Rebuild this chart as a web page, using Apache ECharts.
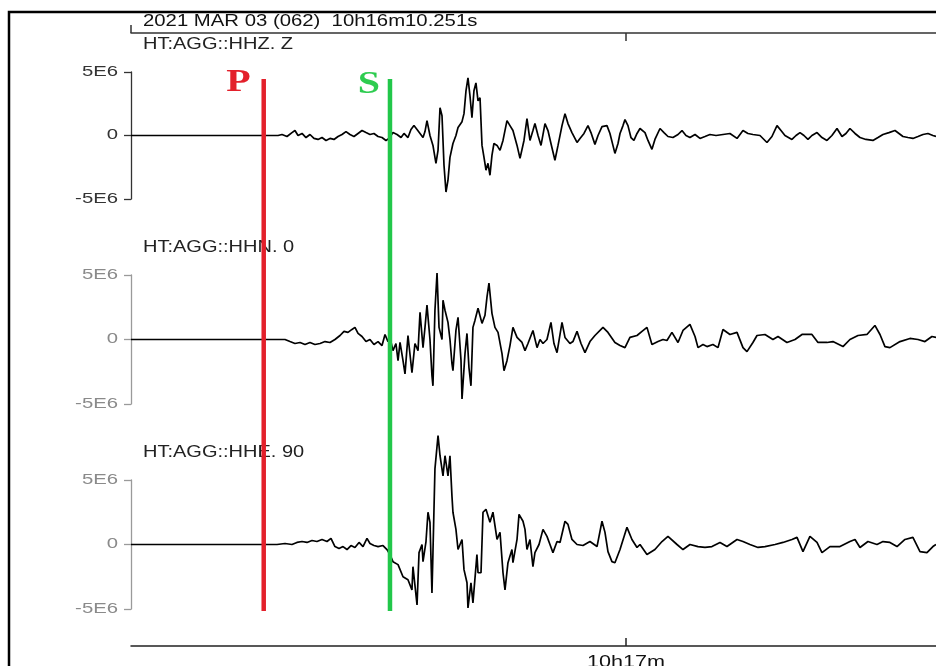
<!DOCTYPE html>
<html><head><meta charset="utf-8">
<script src="https://cdn.jsdelivr.net/npm/echarts@6/dist/echarts.min.js"></script>
<style>html,body{margin:0;padding:0;background:#fff}#c{width:936px;height:666px}</style>
</head><body><div id="c"></div>
<script>
// ---- data ----
const headerText = '2021 MAR 03 (062)  10h16m10.251s';
const channelNames = ['HT:AGG::HHZ. Z', 'HT:AGG::HHN. 0', 'HT:AGG::HHE. 90'];
const yTickValues = [5, 0, -5];            // in units of 1E6 counts
const yTickLabels = ['5E6', '0', '-5E6'];
const timeStart = 10.251;                  // seconds after 10h16m
const timeEnd = 91.16;
const timeTickValues = [60];
const timeTickLabels = ['10h17m'];
const pickP = 23.59;
const pickS = 36.28;

const traceZ = [[10.25,0],[25.03,0],[25.43,0.08],[25.93,-0.08],[26.43,0.23],[26.73,0.39],[27.04,0],[27.44,0.16],[27.84,-0.16],[28.24,0.08],[28.64,-0.23],[29.05,-0.31],[29.45,-0.16],[29.85,-0.39],[30.25,-0.23],[30.65,-0.31],[31.06,-0.08],[31.46,0.08],[31.86,0.31],[32.26,0.08],[32.66,-0.08],[33.07,0.16],[33.47,0.39],[33.87,0.23],[34.27,0.08],[34.67,0.16],[35.08,-0.08],[35.48,-0.16],[35.88,-0.39],[36.18,-0.23],[36.58,0.23],[36.99,0.08],[37.39,-0.16],[37.69,0.16],[38.09,-0.16],[38.39,0.47],[38.69,0.78],[39.0,0.47],[39.3,0.16],[39.6,-0.16],[39.8,0.31],[40.0,1.17],[40.3,0],[40.6,-0.78],[40.9,-2.19],[41.11,-1.17],[41.31,2.19],[41.51,1.56],[41.71,-2.34],[41.91,-4.45],[42.11,-3.52],[42.31,-1.72],[42.61,-0.63],[42.91,0],[43.12,0.63],[43.32,0.78],[43.52,1.09],[43.72,1.72],[43.92,3.52],[44.12,4.53],[44.32,3.13],[44.52,1.41],[44.72,3.52],[44.92,4.14],[45.13,2.73],[45.33,2.97],[45.53,-0.78],[45.73,-1.72],[45.93,-2.73],[46.13,-2.19],[46.33,-3.13],[46.53,-1.56],[46.73,-0.63],[47.04,-0.78],[47.34,-1.17],[47.64,-0.39],[48.04,1.17],[48.34,0.78],[48.64,0.39],[49.05,-0.78],[49.35,-1.8],[49.75,-0.39],[50.05,1.33],[50.35,-0.39],[50.65,0.39],[50.85,0.94],[51.16,0],[51.46,-0.78],[51.86,0.94],[52.16,0.39],[52.46,-0.63],[52.86,-1.95],[53.17,-0.78],[53.57,0.78],[53.87,1.72],[54.17,0.94],[54.57,0.23],[55.08,-0.55],[55.38,-0.23],[55.78,0.16],[56.18,0.78],[56.48,0.23],[56.88,-0.7],[57.19,0],[57.59,0.7],[58.09,0.78],[58.39,0.16],[58.69,-0.78],[58.89,-1.41],[59.2,-0.63],[59.4,0.16],[59.7,0.78],[59.9,1.25],[60.2,0.78],[60.5,-0.16],[60.8,-0.39],[61.11,0.16],[61.41,0.55],[61.91,0.23],[62.21,-0.39],[62.61,-1.09],[62.91,-0.31],[63.42,0.55],[63.82,0.23],[64.22,-0.08],[64.72,-0.16],[65.23,0.08],[65.63,0.39],[66.03,0],[66.43,-0.16],[66.94,0.08],[67.44,-0.23],[67.94,-0.08],[68.44,0.08],[69.05,0],[69.75,0.08],[70.45,0.16],[71.16,-0.23],[71.76,0.39],[72.26,0.16],[72.76,0.08],[73.47,0],[74.17,-0.55],[74.67,-0.08],[75.18,0.78],[75.58,0.39],[75.98,0],[76.68,-0.31],[77.09,0],[77.49,0.23],[77.89,0],[78.29,-0.31],[78.69,0],[79.2,0.23],[79.7,-0.16],[80.2,-0.39],[80.7,0],[81.21,0.55],[81.71,-0.08],[82.11,0.16],[82.51,0.55],[83.02,0.16],[83.52,-0.16],[84.12,-0.31],[84.82,-0.39],[85.33,-0.16],[85.83,0.08],[86.43,0.23],[87.04,0.39],[87.44,0.16],[87.84,-0.08],[88.34,-0.16],[88.84,-0.23],[89.35,-0.08],[89.85,0.08],[90.35,0.16],[90.85,0],[91.16,-0.08]];

const traceN = [[10.25,0],[25.73,0],[26.23,-0.16],[26.73,-0.31],[27.24,-0.23],[27.74,-0.39],[28.24,-0.23],[28.74,-0.39],[29.25,-0.31],[29.75,-0.16],[30.25,-0.23],[30.75,0],[31.26,0.31],[31.66,0.63],[32.06,0.55],[32.46,0.78],[32.76,0.94],[33.07,0.47],[33.47,0.23],[33.87,-0.16],[34.27,0],[34.67,-0.39],[35.08,-0.16],[35.48,-0.47],[35.78,0.39],[36.08,-0.16],[36.28,0.16],[36.58,-0.86],[36.88,-0.31],[37.09,-1.64],[37.29,-0.23],[37.59,-1.64],[37.79,-2.66],[38.09,0.31],[38.49,-2.58],[38.79,-0.31],[39.1,-0.86],[39.3,2.11],[39.6,-0.63],[39.8,0.94],[40.0,2.66],[40.3,0],[40.5,-2.81],[40.6,-3.59],[40.8,2.27],[41.01,5.16],[41.21,0.94],[41.51,0],[41.61,3.05],[41.81,2.27],[42.11,1.33],[42.31,0],[42.51,-1.88],[42.61,-2.42],[42.91,0.7],[43.12,1.72],[43.42,-1.64],[43.52,-4.61],[43.82,-1.09],[44.02,0.47],[44.22,-2.19],[44.42,-3.59],[44.62,0.94],[44.82,1.48],[45.13,2.42],[45.53,1.25],[45.83,1.88],[46.03,3.28],[46.23,4.38],[46.53,2.03],[46.83,0.94],[47.14,0.55],[47.54,-1.09],[47.74,-2.42],[48.04,-1.64],[48.34,-0.47],[48.64,0.94],[49.05,0.16],[49.55,-0.23],[49.85,-0.86],[50.15,-0.31],[50.65,0.7],[51.06,-0.63],[51.36,0],[51.66,-0.31],[52.06,0],[52.46,1.33],[52.76,-0.31],[53.07,-1.02],[53.57,1.33],[53.87,0.16],[54.37,-0.31],[54.67,-0.16],[55.08,0.63],[55.48,-0.31],[55.88,-1.02],[56.38,-0.16],[56.88,0.31],[57.69,0.94],[58.19,0.55],[58.89,-0.23],[59.4,-0.47],[59.9,-0.63],[60.4,0.16],[61.11,0.31],[61.61,0.63],[62.11,0.94],[62.61,-0.39],[63.22,-0.16],[63.72,0],[64.12,-0.08],[64.62,0.55],[65.23,-0.23],[65.73,0.7],[66.43,1.17],[66.94,0.23],[67.24,-0.63],[67.74,-0.39],[68.14,-0.55],[68.74,-0.39],[69.25,-0.63],[69.75,0.78],[70.45,0.39],[71.16,0.55],[71.76,-0.63],[72.16,-0.94],[72.76,-0.23],[73.17,0.31],[73.97,0.39],[74.77,0],[75.28,0.23],[76.18,-0.23],[76.99,0],[77.69,0.39],[78.69,0.39],[79.3,-0.23],[80.2,-0.23],[80.8,-0.16],[81.81,-0.55],[82.51,0],[83.32,0.31],[84.22,0.39],[85.02,1.09],[85.53,0.39],[86.03,-0.55],[86.53,-0.63],[87.54,-0.16],[88.54,0.08],[89.35,0],[90.05,-0.16],[90.75,0.23],[91.16,0.16]];

const traceE = [[10.25,0],[24.93,0],[25.73,0.08],[26.43,0],[26.93,0.16],[27.44,0.23],[27.94,0.16],[28.44,0.31],[28.94,0.23],[29.45,0.39],[29.95,0.23],[30.35,0.47],[30.75,-0.16],[31.16,-0.31],[31.56,-0.16],[31.96,-0.39],[32.36,-0.08],[32.76,-0.23],[33.17,0.16],[33.57,-0.16],[33.97,0.47],[34.27,0.08],[34.67,-0.08],[35.08,-0.16],[35.58,-0.08],[35.98,-0.39],[36.28,-0.78],[36.58,-1.33],[37.09,-1.56],[37.59,-2.5],[38.09,-2.73],[38.49,-3.52],[38.59,-1.72],[39.0,-4.69],[39.2,-0.63],[39.5,0],[39.6,-1.33],[39.9,0.23],[40.1,2.5],[40.3,1.72],[40.5,-3.75],[40.6,-0.63],[40.8,5.86],[41.11,8.44],[41.31,6.88],[41.61,5.31],[41.81,6.88],[42.11,5.31],[42.31,6.88],[42.51,3.75],[42.61,2.5],[42.91,1.17],[43.12,-0.39],[43.52,0.39],[43.72,-1.95],[44.02,-2.97],[44.12,-4.92],[44.42,-2.97],[44.62,-4.53],[45.02,-0.78],[45.13,-2.19],[45.43,-2.19],[45.63,2.5],[45.93,2.73],[46.33,1.72],[46.63,2.5],[47.04,0.39],[47.34,0.94],[47.64,-2.19],[47.84,-3.52],[48.14,-1.41],[48.54,-0.39],[48.64,-1.41],[49.05,0.39],[49.25,2.34],[49.65,1.8],[49.85,1.17],[50.05,-0.39],[50.35,0.39],[50.65,-1.72],[50.85,-0.63],[51.26,0],[51.66,1.17],[52.06,0.63],[52.36,0],[52.66,-0.63],[53.07,0.23],[53.37,0.16],[53.87,1.8],[54.17,1.56],[54.57,0.39],[55.08,0],[55.68,-0.08],[56.38,0.23],[57.09,-0.16],[57.59,1.8],[57.89,0.94],[58.19,-0.55],[58.59,-1.33],[58.89,-1.41],[59.4,-0.39],[60.1,1.33],[60.6,0.39],[61.11,-0.23],[61.41,0],[62.11,-0.78],[62.91,-0.39],[63.62,0.23],[64.22,0.63],[65.13,0],[65.73,-0.39],[66.43,0],[67.24,-0.16],[67.94,-0.23],[68.64,-0.16],[69.45,0.16],[70.15,-0.16],[71.16,0.39],[71.76,0.23],[72.46,0],[73.27,-0.23],[73.97,-0.16],[74.98,0],[75.78,0.16],[76.68,0.39],[77.19,0.55],[77.79,-0.55],[78.49,0.63],[79.2,0.16],[79.7,-0.63],[80.5,-0.16],[81.51,-0.16],[82.51,0.23],[83.02,0.39],[83.52,-0.23],[84.32,0.23],[85.23,0],[85.83,0.23],[86.53,0.16],[87.24,-0.16],[88.04,0.39],[88.84,0.55],[89.55,-0.55],[90.25,-0.63],[90.85,-0.16],[91.16,0]];

const traces = [traceZ, traceN, traceE];

// ---- layout ----
const gridTops = [72, 275, 480];
const gridHeights = [127, 129, 129];
const axisDark = '#333';
const axisGrey = '#9a9a9a';
const labelColors = ['#333', '#8a8a8a', '#8a8a8a'];
const axisColors = [axisDark, axisGrey, axisGrey];
const FONT = '"Liberation Sans", Arial, Helvetica, sans-serif';

const grids = gridTops.map((t, i) => ({left: 131, right: 0, top: t, height: gridHeights[i]}));
grids.push({left: 131, right: 0, top: 79, height: 532}); // overlay for picks

const baseX = {type: 'value', min: timeStart, max: timeEnd, splitLine: {show: false},
  axisLabel: {show: false}};

const xAxes = [
  Object.assign({}, baseX, {gridIndex: 0, position: 'top', offset: 39,
    axisLine: {show: true, onZero: false, lineStyle: {color: '#333', width: 1.5}},
    axisTick: {show: true, inside: true, length: 8, customValues: timeTickValues, lineStyle: {color: '#333', width: 1.5}}}),
  Object.assign({}, baseX, {gridIndex: 1, position: 'top', offset: 242,
    axisLine: {show: false, onZero: false},
    axisTick: {show: true, inside: false, length: 8, customValues: [timeStart], lineStyle: {color: '#333', width: 1.5}}}),
  Object.assign({}, baseX, {gridIndex: 2, position: 'bottom', offset: 37,
    axisLine: {show: true, onZero: false, lineStyle: {color: '#222', width: 1.5}},
    axisTick: {show: true, inside: true, length: 8, customValues: timeTickValues, lineStyle: {color: '#222', width: 1.5}}}),
  Object.assign({}, baseX, {gridIndex: 3, show: false, axisLine: {onZero: false}})
];

const yAxes = [0, 1, 2].map(i => ({
  gridIndex: i, type: 'value', min: -5, max: 5, interval: 5,
  axisLine: {show: true, onZero: false, lineStyle: {color: axisColors[i], width: 1.3}},
  axisTick: {show: true, inside: false, length: 7, lineStyle: {color: axisColors[i], width: 1.3}},
  axisLabel: {show: false}, splitLine: {show: false}
}));
yAxes.push({gridIndex: 3, type: 'value', min: 0, max: 1, show: false});

const series = traces.map((d, i) => ({
  type: 'line', xAxisIndex: i, yAxisIndex: i, data: d, showSymbol: false, symbol: 'none',
  clip: false, lineStyle: {color: '#000', width: 1.7}, z: 3, silent: true
}));
series.push({type: 'line', xAxisIndex: 3, yAxisIndex: 3, data: [[pickP, 0], [pickP, 1]],
  symbol: 'none', lineStyle: {color: '#e3202b', width: 4.5}, z: 5, silent: true});
series.push({type: 'line', xAxisIndex: 3, yAxisIndex: 3, data: [[pickS, 0], [pickS, 1]],
  symbol: 'none', lineStyle: {color: '#22c74a', width: 4.5}, z: 5, silent: true});

const option = {
  animation: false,
  backgroundColor: '#fff',
  grid: grids, xAxis: xAxes, yAxis: yAxes, series: series
};

const chart = echarts.init(document.getElementById('c'), null, {renderer: 'canvas'});
chart.setOption(option);

function txt(x, y, text, size, sx, color, align) {
  return {type: 'text', x: x, y: y, scaleX: sx, silent: true,
    style: {text: text, fill: color, font: size + 'px ' + FONT,
      textAlign: align, align: align, textVerticalAlign: 'middle', verticalAlign: 'middle'}};
}

const g = [];
g.push({type: 'rect', silent: true, shape: {x: 9, y: 12, width: 1000, height: 800},
  style: {fill: 'none', stroke: '#000', lineWidth: 2.5}});

const axX = chart.convertToPixel({xAxisIndex: 0}, timeStart);
const topLineY = gridTops[0] - 39;
g.push(txt(axX + 12, topLineY - 11, headerText, 16, 1.27, '#111', 'left'));

for (let i = 0; i < 3; i++) {
  yTickValues.forEach((v, k) => {
    const py = chart.convertToPixel({yAxisIndex: i}, v);
    g.push(txt(axX - 13, py, yTickLabels[k], 14, 1.45, labelColors[i], 'right'));
  });
  const topY = chart.convertToPixel({yAxisIndex: i}, yTickValues[0]);
  g.push(txt(axX + 12, topY - 27, channelNames[i], 16, 1.25, '#222', 'left'));
}

timeTickValues.forEach((v, k) => {
  const px = chart.convertToPixel({xAxisIndex: 2}, v);
  g.push(txt(px, 663, timeTickLabels[k], 16, 1.35, '#111', 'center'));
});

const pickTop = chart.convertToPixel({yAxisIndex: 3}, 1);
const pX = chart.convertToPixel({xAxisIndex: 3}, pickP);
const sX = chart.convertToPixel({xAxisIndex: 3}, pickS);
const serif = '"Liberation Serif", "Times New Roman", serif';
g.push({type: 'text', x: pX - 13, y: pickTop + 4, scaleX: 1.25, silent: true,
  style: {text: 'P', fill: '#e3202b', font: 'bold 32px ' + serif, textAlign: 'right', align: 'right',
    textVerticalAlign: 'middle', verticalAlign: 'middle'}});
g.push({type: 'text', x: sX - 10, y: pickTop + 6, scaleX: 1.25, silent: true,
  style: {text: 'S', fill: '#2ecc50', font: 'bold 32px ' + serif, textAlign: 'right', align: 'right',
    textVerticalAlign: 'middle', verticalAlign: 'middle'}});

chart.setOption({graphic: {elements: g}});
</script></body></html>
